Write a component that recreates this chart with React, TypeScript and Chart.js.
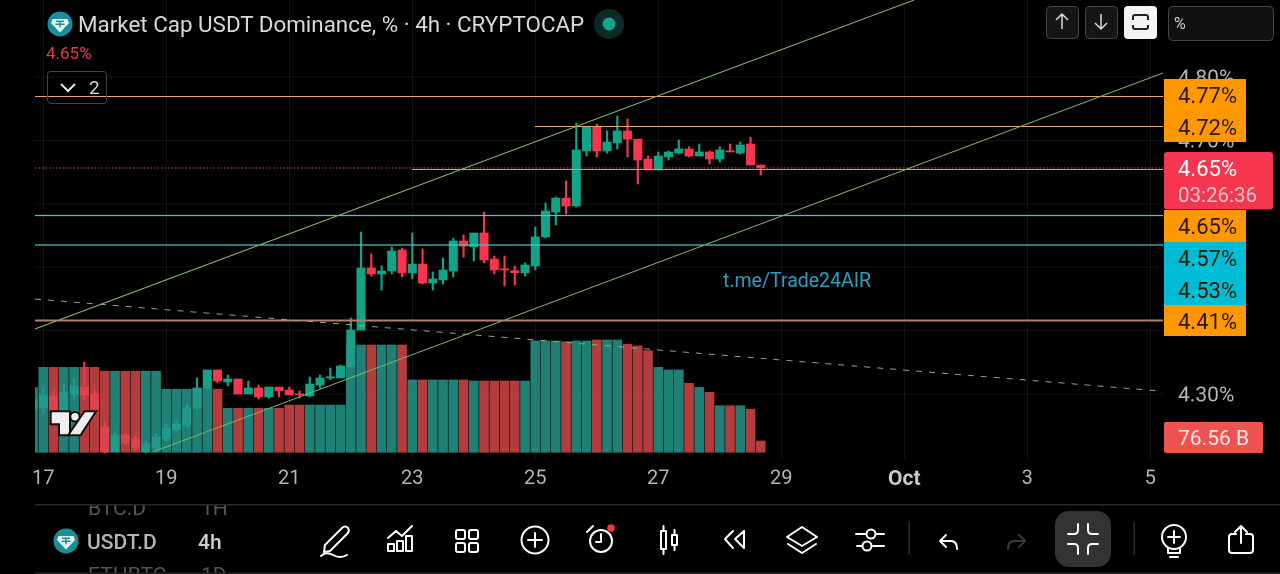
import React, { useEffect, useRef } from "react";
import { Chart, registerables } from "chart.js";

Chart.register(...registerables);

const FONT = "Roboto, sans-serif";

const opens = [4.2748,4.278,4.297,4.2748,4.3,4.311,4.3,4.248,4.2086,4.2354,4.229,4.2086,4.2133,4.229,4.2433,4.2511,4.278,4.3095,4.3379,4.319,4.3237,4.3,4.3095,4.2953,4.311,4.3063,4.3,4.297,4.3142,4.3253,4.3253,4.3426,4.401,4.4988,4.4893,4.494,4.5272,4.491,4.505,4.475,4.48,4.494,4.5414,4.532,4.554,4.513,4.4972,4.4945,4.491,4.502,4.5477,4.587,4.609,4.5966,4.6833,4.7212,4.6833,4.696,4.715,4.702,4.6707,4.6534,4.674,4.68,4.6865,4.6754,4.6818,4.6707,4.6833,4.68,4.6944,4.6612];
const highs = [4.2954,4.31,4.305,4.317,4.325,4.3505,4.305,4.255,4.24,4.238,4.233,4.226,4.237,4.252,4.258,4.283,4.3253,4.3379,4.3379,4.33,4.3237,4.3205,4.3142,4.311,4.311,4.311,4.3048,4.3268,4.33,4.341,4.3458,4.42,4.5556,4.521,4.502,4.532,4.5303,4.554,4.5288,4.4925,4.5146,4.546,4.5508,4.554,4.587,4.5177,4.5177,4.502,4.5067,4.5634,4.6013,4.6108,4.636,4.7275,4.7212,4.7259,4.715,4.7385,4.7338,4.702,4.6754,4.6818,4.6833,4.7007,4.69,4.6944,4.6833,4.69,4.6944,4.6975,4.705,4.6612];
const lows = [4.27,4.27,4.268,4.268,4.292,4.2906,4.262,4.207,4.2086,4.22,4.211,4.207,4.21,4.226,4.24,4.247,4.276,4.306,4.3174,4.3127,4.3,4.3,4.292,4.2937,4.2953,4.2985,4.2937,4.2953,4.3095,4.3225,4.3253,4.3426,4.401,4.486,4.464,4.4893,4.4846,4.4815,4.4735,4.464,4.4735,4.4846,4.516,4.51,4.5067,4.4893,4.4704,4.472,4.486,4.4956,4.546,4.5666,4.584,4.595,4.6754,4.674,4.68,4.6865,4.674,4.6313,4.6534,4.6534,4.669,4.6786,4.674,4.6754,4.6628,4.666,4.6818,4.6786,4.6612,4.6455];
const closes = [4.2906,4.2985,4.2748,4.3032,4.3127,4.2985,4.2748,4.2086,4.2354,4.2228,4.2149,4.2212,4.2322,4.2464,4.2527,4.278,4.3095,4.3379,4.3205,4.3237,4.3,4.3095,4.2953,4.311,4.3048,4.2985,4.2985,4.3158,4.3253,4.3268,4.3442,4.401,4.4988,4.4893,4.494,4.5256,4.491,4.505,4.475,4.4815,4.4956,4.5414,4.5335,4.554,4.5114,4.4956,4.4956,4.4914,4.5035,4.5477,4.5887,4.609,4.5966,4.685,4.7212,4.6833,4.6975,4.715,4.702,4.669,4.6534,4.6754,4.6818,4.6865,4.6754,4.6818,4.6707,4.685,4.6818,4.6928,4.6612,4.6565];
const volumes = [438,576,576,576,576,576,576,549,549,549,549,549,549,427,427,427,434,434,427,298,298,298,298,298,298,320,320,320,320,320,320,727,727,727,727,727,727,490,490,490,490,490,490,483,483,483,483,483,483,754,754,754,749,754,754,761,761,761,732,720,688,576,558,558,467,440,406,316,316,316,293,76.56];
const volumeUp = [1,1,0,1,1,0,0,0,1,0,0,1,1,1,1,1,1,1,0,1,0,1,0,1,0,0,0,1,1,1,1,1,1,0,1,1,0,1,0,1,1,1,0,1,0,0,0,0,1,1,1,1,0,1,1,0,1,1,0,0,0,1,1,1,0,1,0,1,0,1,0,0];

const dayTicks = [1,13,25,37,49,61,73,85,97,109];
const dayLabels = ["17","19","21","23","25","27","29","Oct","3","5"];
const priceTicks = [4.3,4.4,4.5,4.6,4.7,4.8];
const priceLabels = ["4.30%","","","","4.70%","4.80%"];

const levels = [
  { from: 0.19, value: 4.7693, color: "#e2a873", width: 1 },
  { from: 48.97, value: 4.722, color: "#e2a873", width: 1 },
  { from: 36.97, value: 4.6541, color: "#e09a5c", width: 1 },
  { from: 0.19, value: 4.5816, color: "#4fc3c7", width: 1.2 },
  { from: 0.19, value: 4.5351, color: "#4fc3c7", width: 1.2 },
  { from: 0.19, value: 4.416, color: "#b0806a", width: 2 },
];
const channelUpper = [{ x: 0.19, y: 4.4026 }, { x: 85.95, y: 4.9215 }];
const channelLower = [{ x: 11.7, y: 4.2086 }, { x: 110.24, y: 4.8064 }];
const trendDashed = [{ x: 0.19, y: 4.4499 }, { x: 109.95, y: 4.3048 }];
const lastPrice = 4.6565;

const priceTags = [
  { text: "4.77%", top: 79, h: 32, fill: "#ff9800" },
  { text: "4.72%", top: 111, h: 31, fill: "#ff9800" },
  { text: "4.65%", top: 210, h: 32, fill: "#ff9800" },
  { text: "4.57%", top: 242, h: 32, fill: "#00bcd4" },
  { text: "4.53%", top: 274, h: 31, fill: "#00bcd4" },
  { text: "4.41%", top: 305, h: 31, fill: "#ff9800" },
];

const TEAL = "#12a488";
const RED = "#f5364e";
const X_MIN = 0.19;
const X_MAX = 110.24;
const Y_MIN = 4.1975;
const Y_MAX = 4.9215;

function lineSet(data: any[], color: string, width: number, dash: number[] = []) {
  return {
    type: "line" as const,
    data,
    borderColor: color,
    borderWidth: width,
    borderDash: dash,
    pointRadius: 0,
    yAxisID: "y",
    order: 0,
    tension: 0,
  };
}

function Logo({ cx, cy }: { cx: number; cy: number }) {
  return (
    <g transform={`translate(${cx} ${cy})`}>
      <circle r="12.5" fill="#17909a" />
      <polygon points="-7.5,-5 7.5,-5 9,-1 0,8.5 -9,-1" fill="#e9f6f4" />
      <path d="M-4,-2.8H4M0,-2.8V3.5M-4.5,0.2H4.5" stroke="#17909a" strokeWidth="1.5" fill="none" />
    </g>
  );
}

const ink = { fill: "none", stroke: "#fff", strokeWidth: 2, strokeLinecap: "round" as const, strokeLinejoin: "round" as const };

function Overlay() {
  return (
    <svg width="1280" height="574" style={{ position: "absolute", left: 0, top: 0 }} fontFamily={FONT}>
      <rect x="0" y="460" width="33" height="40" fill="#000" />
      {/* header */}
      <Logo cx={60} cy={24} />
      <text x="78" y="32" fontSize="22.4" fill="#d9d9d9">Market Cap USDT Dominance, % · 4h · CRYPTOCAP</text>
      <circle cx="609" cy="24" r="15" fill="#0e2a28" />
      <circle cx="609" cy="24" r="6.5" fill="#16a58c" />
      <text x="46" y="59" fontSize="17" fill="#d8404e">4.65%</text>
      <rect x="47.5" y="71.5" width="59" height="32" rx="3" fill="none" stroke="#444" />
      <polyline points="61,84 68,91 75,84" fill="none" stroke="#e5e5e5" strokeWidth="2" />
      <text x="89" y="94" fontSize="19" fill="#d9d9d9">2</text>
      {/* top right buttons */}
      <rect x="1046.5" y="6.5" width="32" height="32" rx="4" fill="#161616" stroke="#444" />
      <path d="M1062,29V14M1056,20L1062,14L1068,20" fill="none" stroke="#ddd" strokeWidth="1.5" />
      <rect x="1085.5" y="6.5" width="32" height="32" rx="4" fill="#161616" stroke="#444" />
      <path d="M1101,14V29M1095,23L1101,29L1107,23" fill="none" stroke="#ddd" strokeWidth="1.5" />
      <rect x="1124" y="6" width="33" height="33" rx="4" fill="#f4f4f4" />
      <path d="M1133,20V17Q1133,15 1135,15H1146Q1148,15 1148,17V20M1133,25V27Q1133,29 1135,29H1146Q1148,29 1148,27V25" fill="none" stroke="#222" strokeWidth="2" />
      <rect x="1168.5" y="6.5" width="105" height="34" rx="4" fill="#111" stroke="#444" />
      <text x="1174" y="29" fontSize="16" fill="#ccc">%</text>
      {/* watermark */}
      <text x="723" y="287" fontSize="19.5" fill="#2c9fc0">t.me/Trade24AIR</text>
      {/* tradingview logo */}
      <g fill="#eee" stroke="#111" strokeWidth="4" paintOrder="stroke" strokeLinejoin="miter">
        <polygon points="51.7,412.3 69,412.3 69,434.3 60,434.3 60,423.3 51.7,423.3" />
        <circle cx="75" cy="416.7" r="3.7" />
        <polygon points="85,412.3 94.3,412.3 80,434.3 70,434.3" />
      </g>
      {/* price tags */}
      {priceTags.map((t) => (
        <g key={t.top}>
          <rect x="1164" y={t.top} width="82" height={t.h} fill={t.fill} />
          <text x="1178" y={t.top + t.h / 2 + 8} fontSize="22" fill="#2a1a05">{t.text}</text>
        </g>
      ))}
      <rect x="1164" y="152" width="109" height="57.5" rx="3" fill="#f5364e" />
      <text x="1178" y="176" fontSize="22" fill="#fff">4.65%</text>
      <text x="1178" y="202" fontSize="20.5" fill="#fbc3ca">03:26:36</text>
      <rect x="1164" y="422" width="99" height="31" rx="2" fill="#ef5350" />
      <text x="1178" y="445" fontSize="21" fill="#f7e6e6">76.56 B</text>
      {/* bottom bar */}
      <text x="88" y="515" fontSize="21" fill="#555">BTC.D</text>
      <text x="201" y="515" fontSize="21" fill="#555">1H</text>
      <text x="88" y="582" fontSize="21" fill="#555">ETHBTC</text>
      <text x="201" y="582" fontSize="21" fill="#555">1D</text>
      <rect x="0" y="495" width="1280" height="9" fill="#000" />
      <rect x="35" y="504" width="1245" height="1.5" fill="#2a2a2a" />
      <rect x="35" y="572.5" width="1245" height="1.5" fill="#222" />
      <Logo cx={66} cy={541} />
      <text x="87" y="549" fontSize="21" fontWeight="500" fill="#b5b5b5">USDT.D</text>
      <text x="198" y="549" fontSize="21" fontWeight="500" fill="#cfcfcf">4h</text>
      {/* toolbar */}
      <rect x="1055" y="511" width="56" height="56" rx="14" fill="#333" />
      <g {...ink}>
        <path d="M325,545L342,528Q345,525 348,528Q350,531 347,534L330,551L324,552Z" />
        <path d="M321,556Q326,551 333,555T347,555" />
        <path d="M388,538L396,531L402,536L412,526M388,551V544H394V551ZM397,551V541H403V551ZM406,551V536H412V551Z" />
        <rect x="456" y="530" width="9" height="9" rx="2" />
        <rect x="469" y="530" width="9" height="9" rx="2" />
        <rect x="456" y="543" width="9" height="9" rx="2" />
        <rect x="469" y="543" width="9" height="9" rx="2" />
        <circle cx="535" cy="540" r="13.5" />
        <path d="M535,533V547M528,540H542" />
        <circle cx="601" cy="541" r="11" />
        <path d="M601,534V542H596M587,532L593,526" />
        <rect x="661" y="531" width="5" height="18" />
        <path d="M663.5,526V531M663.5,549V554" />
        <rect x="672" y="535" width="5" height="10" />
        <path d="M674.5,530V535M674.5,545V550" />
        <path d="M733,531L725,539L733,548M744,531L735,539L744,548V531" />
        <path d="M802,527L817,537L802,546L787,537ZM788,544L802,553L816,544" />
        <path d="M856,534H866M877,534H884M857,546H862M873,546H884" />
        <circle cx="871" cy="534" r="4.5" />
        <circle cx="867" cy="546" r="4.5" />
        <path d="M940,541L946,535M940,541L946,547M941,541H951Q957,541 957,549" />
        <path d="M1078,524V530Q1078,534 1074,534H1068M1088,524V530Q1088,534 1092,534H1098M1068,544H1074Q1078,544 1078,548V554M1098,544H1092Q1088,544 1088,548V554" />
        <circle cx="1174" cy="537" r="12" />
        <path d="M1174,531V543M1168,537H1180M1168,548V553H1180V548M1170,557H1178" />
        <path d="M1229,537V550Q1229,553 1232,553H1250Q1253,553 1253,550V537Q1253,534 1250,534H1246M1236,534H1232Q1229,534 1229,537M1241,543V526M1235,532L1241,526L1247,532" />
      </g>
      <path d="M1025,541L1019,535M1025,541L1019,547M1024,541H1014Q1008,541 1008,549" fill="none" stroke="#3a3a3a" strokeWidth="2" strokeLinecap="round" />
      <circle cx="611" cy="528" r="3.8" fill="#f0364a" />
      <rect x="908.5" y="522" width="1.5" height="33" fill="#2c2c2c" />
      <rect x="1133.5" y="522" width="1.5" height="33" fill="#2c2c2c" />
    </svg>
  );
}

export default function App() {
  const canvasRef = useRef<HTMLCanvasElement | null>(null);

  useEffect(() => {
    const index = opens.map((_, i) => i);
    const color = (i: number) => (closes[i] >= opens[i] ? TEAL : RED);
    const chart = new Chart(canvasRef.current as HTMLCanvasElement, {
      data: {
        datasets: [
          lineSet(channelUpper, "#80b566", 1),
          lineSet(channelLower, "#80b566", 1),
          lineSet(trendDashed, "#8fa888", 1, [6, 7]),
          ...levels.map((l) =>
            lineSet([{ x: l.from, y: l.value }, { x: X_MAX, y: l.value }], l.color, l.width)
          ),
          lineSet([{ x: X_MIN, y: lastPrice }, { x: X_MAX, y: lastPrice }], "#c9584f", 1, [1.5, 2]),
          {
            type: "bar",
            data: index.map((i) => ({ x: i, y: volumes[i] })),
            backgroundColor: index.map((i) => (volumeUp[i] ? "rgba(38,152,140,0.84)" : "rgba(212,72,74,0.84)")),
            barThickness: 9,
            grouped: false,
            yAxisID: "y1",
            order: 2,
          },
          {
            type: "bar",
            data: index.map((i) => ({ x: i, y: [opens[i], closes[i]] })),
            backgroundColor: index.map(color),
            barThickness: 8.4,
            minBarLength: 1.2,
            grouped: false,
            yAxisID: "y",
            order: 3,
          },
          {
            type: "bar",
            data: index.map((i) => ({ x: i, y: [lows[i], highs[i]] })),
            backgroundColor: index.map(color),
            barThickness: 1.5,
            grouped: false,
            yAxisID: "y",
            order: 4,
          },
        ] as any,
      },
      options: {
        responsive: false,
        animation: false,
        devicePixelRatio: 2,
        layout: { padding: { left: 35 } },
        plugins: { legend: { display: false }, title: { display: false }, tooltip: { enabled: false } },
        scales: {
          x: {
            type: "linear",
            offset: false,
            min: X_MIN,
            max: X_MAX,
            border: { display: false },
            grid: { color: "rgba(255,255,255,0.07)", offset: false, drawTicks: false },
            afterBuildTicks: (s: any) => {
              s.ticks = dayTicks.map((value) => ({ value }));
            },
            afterFit: (s: any) => {
              s.height = 115;
              s.paddingLeft = s.paddingRight = s.paddingTop = s.paddingBottom = 0;
            },
            ticks: {
              autoSkip: false,
              maxRotation: 0,
              padding: 8,
              color: (c: any) => (c.tick?.value === 85 ? "#c9c9c9" : "#b5b5b5"),
              font: (c: any) => ({ family: FONT, size: c.tick?.value === 85 ? 21 : 20, weight: c.tick?.value === 85 ? "bold" : "normal" }),
              callback: (v: any) => dayLabels[dayTicks.indexOf(Number(v))] ?? "",
            },
          },
          y: {
            type: "linear",
            position: "right",
            min: Y_MIN,
            max: Y_MAX,
            border: { display: false },
            grid: { color: "rgba(255,255,255,0.07)", drawTicks: false },
            afterBuildTicks: (s: any) => {
              s.ticks = priceTicks.map((value) => ({ value }));
            },
            afterFit: (s: any) => {
              s.width = 117;
              s.paddingLeft = s.paddingRight = s.paddingTop = s.paddingBottom = 0;
            },
            ticks: {
              padding: 15,
              labelOffset: 2,
              autoSkip: false,
              color: "#b5b5b5",
              crossAlign: "near",
              font: { family: FONT, size: 21 },
              callback: (v: any) => priceLabels[priceTicks.indexOf(Number(v))] ?? "",
            },
          },
          y1: { type: "linear", display: false, min: -45.4, max: 3064 },
        },
      } as any,
    });
    return () => chart.destroy();
  }, []);

  return (
    <div style={{ position: "fixed", left: 0, top: 0, width: 1280, height: 574, background: "#000", overflow: "hidden" }}>
      <canvas ref={canvasRef} width={1280} height={574} style={{ position: "absolute", left: 0, top: 0, width: 1280, height: 574 }} />
      <Overlay />
    </div>
  );
}
